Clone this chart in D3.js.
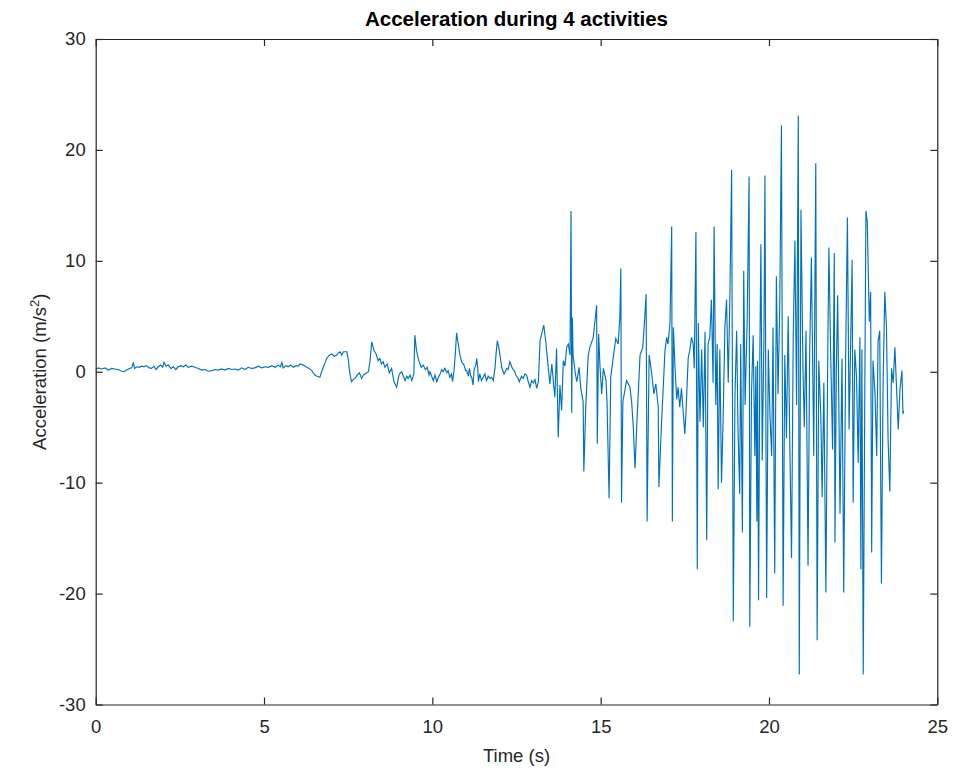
<!DOCTYPE html>
<html>
<head>
<meta charset="utf-8">
<script src="https://cdn.jsdelivr.net/npm/d3@7"></script>
<style>
  body { margin: 0; background: #fff; }
  text { font-family: "Liberation Sans", Arial, Helvetica, sans-serif; }
</style>
</head>
<body>
<div id="chart"></div>
<script>
// [time (s), acceleration (m/s^2)], one array per activity
const sitting = [[0,0.2],[0.08,0.35],[0.18,0.25],[0.28,0.35],[0.37,0.15],[0.48,0.3],[0.57,0.25],[0.67,0.2],
  [0.77,0.05],[0.84,0.0],[0.92,0.15],[1.0,0.3],[1.07,0.35],[1.12,0.85],[1.15,0.3],[1.22,0.45],[1.29,0.4],
  [1.37,0.5],[1.43,0.45],[1.51,0.55],[1.59,0.35],[1.66,0.3],[1.73,0.5],[1.79,0.2],[1.86,0.45],[1.93,0.6],
  [1.99,0.4],[2.03,0.85],[2.09,0.5],[2.16,0.6],[2.23,0.3],[2.31,0.45],[2.38,0.2],[2.45,0.45],[2.52,0.55],
  [2.6,0.45],[2.68,0.6],[2.75,0.4],[2.85,0.5],[2.95,0.4],[3.05,0.3],[3.15,0.15],[3.25,0.2],[3.34,0.05],
  [3.45,0.1],[3.54,0.2],[3.64,0.15],[3.74,0.25],[3.84,0.15],[3.94,0.3],[4.04,0.2],[4.14,0.25],[4.24,0.15],
  [4.34,0.35],[4.43,0.2],[4.53,0.4],[4.63,0.3],[4.73,0.35],[4.83,0.5],[4.93,0.35],[5.03,0.45],[5.13,0.4],
  [5.23,0.55],[5.33,0.4],[5.42,0.6],[5.49,0.45],[5.53,0.85],[5.57,0.35],[5.65,0.55],[5.72,0.45],[5.79,0.6],
  [5.87,0.4],[5.95,0.55],[6.02,0.5]]

const walking = [[6.07,0.7],[6.17,0.6],[6.27,0.4],[6.34,0.3],[6.42,0.1],[6.51,-0.3],[6.58,-0.4],[6.66,-0.5],
  [6.71,0],[6.76,0.4],[6.81,0.8],[6.86,1.2],[6.94,1.5],[7.01,1.6],[7.09,1.4],[7.16,1.5],[7.21,1.7],[7.26,1.8],
  [7.31,1.5],[7.36,1.8],[7.46,1.8],[7.51,1.0],[7.53,0.3],[7.57,-0.5],[7.6,-0.9],[7.65,-0.7],[7.7,-0.6],
  [7.77,-0.3],[7.83,-0.1],[7.9,-0.6],[7.95,-0.3],[8.0,-0.2],[8.1,0],[8.15,1.0],[8.2,2.7],[8.27,1.9],[8.33,1.6],
  [8.39,1.0],[8.44,1.2],[8.49,0.7],[8.54,0.9],[8.59,0.4],[8.66,0.7],[8.72,-0.1],[8.79,0.3],[8.86,-0.9],
  [8.94,-1.4],[8.99,-0.6],[9.02,-0.2],[9.09,0],[9.14,-0.4],[9.19,-0.8],[9.24,-0.4],[9.28,-0.6],[9.34,-0.3],
  [9.39,-0.8],[9.45,-0.2],[9.48,3.3],[9.53,1.9],[9.58,1.2],[9.61,0.9],[9.67,0.4],[9.73,0.6],[9.79,0.2],
  [9.85,0.4],[9.9,-0.3],[9.93,0],[9.98,-0.4],[10.03,-0.8],[10.08,-0.3],[10.13,-0.9],[10.18,-0.5],[10.23,-0.2],
  [10.28,0.2],[10.32,0],[10.37,0.3],[10.43,-0.1],[10.47,0.1],[10.52,-0.5],[10.57,-0.2],[10.6,-0.9],[10.64,0],
  [10.68,1.5],[10.72,3.5],[10.77,2.5],[10.82,1.5],[10.87,0.9],[10.94,0.6],[10.99,0.1],[11.02,0.1],[11.07,-0.4],
  [11.1,0.3],[11.14,-0.4],[11.17,-0.5],[11.21,-1.2],[11.24,0.2],[11.29,0.6],[11.32,1.2],[11.35,0.3],[11.37,-0.9],
  [11.41,-0.2],[11.46,-0.8],[11.51,-0.5],[11.56,-0.2],[11.61,-0.8],[11.66,-0.4],[11.71,-0.6],[11.76,-0.5],
  [11.81,-0.8],[11.86,0.3],[11.89,1.5],[11.93,2.8],[11.99,1.9],[12.06,0.4],[12.13,-0.2],[12.21,0.3],[12.25,0.2],
  [12.3,0.9],[12.38,0.3],[12.45,0],[12.48,-0.3],[12.55,-0.6],[12.58,-0.9],[12.65,-0.4],[12.7,-0.6],[12.75,-0.2],
  [12.8,-0.3],[12.85,-0.9],[12.9,-1.4],[12.95,-0.8],[13.0,-1.0],[13.05,-0.7],[13.1,-1.5],[13.15,-0.9]]

const running = [[13.2,2.8],[13.31,4.2],[13.37,2.7],[13.43,0.8],[13.49,-1.1],[13.55,0.7],[13.61,-1.4],
  [13.64,-2.3],[13.69,2.1],[13.74,-5.9],[13.79,-1.2],[13.84,-3.5],[13.89,1.0],[13.94,0.5],[13.99,2.2],
  [14.04,2.5],[14.09,1.5],[14.12,14.5],[14.14,-3.7],[14.16,4.9],[14.18,1.5],[14.24,0],[14.29,-0.9],[14.36,0.4],
  [14.41,-1.5],[14.48,-2.7],[14.5,-9.0],[14.56,-3.0],[14.63,1.5],[14.68,2.2],[14.78,3.1],[14.88,6.0],
  [14.9,-6.5],[14.94,3.4],[14.98,0.5],[15.03,-2.0],[15.08,0.3],[15.16,-0.8],[15.19,-2.8],[15.25,-11.4],
  [15.3,-0.5],[15.37,1.2],[15.45,3.0],[15.52,2.5],[15.57,4.9],[15.6,9.3],[15.62,-11.8],[15.66,-2.7],
  [15.77,-0.8],[15.87,-1.4],[15.92,-2.7],[15.97,-5.0],[16.02,-8.7],[16.07,-5.0],[16.17,1.5],[16.25,2.2],
  [16.31,4.9],[16.35,7.0],[16.38,-13.5],[16.44,1.5],[16.51,0],[16.58,-2.0],[16.64,-1.1],[16.71,-3.2],[16.73,-10.4]]

const jumping = [[16.81,-4.5],[16.85,-2.0],[16.91,1.9],[16.96,3.1],[17.0,2.5],[17.06,4.4],[17.11,13.1],
  [17.13,-13.5],[17.16,4.0],[17.21,0.3],[17.26,-2.5],[17.3,-1.4],[17.35,-3.2],[17.4,-1.5],[17.45,-3.5],
  [17.5,-5.6],[17.53,-4.0],[17.6,1.2],[17.65,2.0],[17.7,3.1],[17.75,2.5],[17.78,0.3],[17.83,12.6],[17.87,-17.8],
  [17.9,4.4],[17.95,-4.5],[18.0,2.0],[18.05,-5.0],[18.1,3.6],[18.15,-15.2],[18.19,2.5],[18.24,3.1],[18.29,6.5],
  [18.34,-1.0],[18.37,13.1],[18.42,-3.0],[18.46,2.5],[18.49,-10.6],[18.54,2.0],[18.59,-10.0],[18.64,-4.0],
  [18.69,4.0],[18.74,6.5],[18.79,-1.0],[18.84,7.0],[18.89,18.2],[18.94,-22.5],[18.99,-2.0],[19.04,3.7],
  [19.08,-5.2],[19.13,-11.0],[19.16,2.5],[19.21,-14.5],[19.25,9.1],[19.29,-3.0],[19.35,4.3],[19.41,17.6],
  [19.43,-23.0],[19.48,-2.0],[19.53,3.3],[19.58,-7.6],[19.61,0.5],[19.64,-13.5],[19.66,1.0],[19.69,-20.6],
  [19.73,2.0],[19.76,11.5],[19.8,-8.0],[19.85,3.0],[19.88,17.7],[19.93,-20.4],[19.98,2.0],[20.03,-4.0],
  [20.08,-7.6],[20.12,4.0],[20.17,-18.2],[20.22,8.6],[20.27,-2.0],[20.32,6.0],[20.37,22.2],[20.42,-21.1],
  [20.47,1.5],[20.52,-6.0],[20.57,5.0],[20.62,-6.8],[20.67,-16.8],[20.72,3.0],[20.77,11.8],[20.82,-3.0],
  [20.87,23.1],[20.9,-27.3],[20.95,14.6],[21.01,0.3],[21.05,-5.0],[21.1,3.7],[21.16,-17.5],[21.21,2.0],
  [21.26,10.3],[21.33,-7.6],[21.39,18.8],[21.43,-24.2],[21.48,1.0],[21.54,-4.0],[21.58,-11.3],[21.63,-1.0],
  [21.69,-19.9],[21.75,3.0],[21.78,11.2],[21.83,2.0],[21.89,-7.0],[21.94,10.7],[21.96,-15.4],[22.0,0.0],
  [22.04,6.9],[22.11,-12.8],[22.17,1.2],[22.22,-19.9],[22.28,2.0],[22.33,13.9],[22.38,-5.2],[22.47,10.1],
  [22.5,-11.8],[22.55,2.0],[22.6,-0.4],[22.65,-8.2],[22.7,3.1],[22.73,-17.8],[22.76,2.0],[22.8,-27.3],
  [22.85,0],[22.88,14.5],[22.92,13.5],[22.98,4.5],[23.02,7.2],[23.05,-16.3],[23.09,1.0],[23.15,-2.0],
  [23.2,-7.6],[23.24,2.7],[23.29,3.7],[23.34,-19.1],[23.39,-1.0],[23.44,7.2],[23.49,4.0],[23.54,-6.3],
  [23.59,-10.8],[23.64,0.3],[23.69,-1.0],[23.74,2.2],[23.79,-1.5],[23.84,-5.2],[23.89,-1.6],[23.95,0.1],
  [23.98,-3.8],[24.0,-3.5]]

const xTicks = [0, 5, 10, 15, 20, 25]
const yTicks = [-30, -20, -10, 0, 10, 20, 30]

const titleText = "Acceleration during 4 activities"
const xLabel = "Time (s)"

// set the dimensions and margins of the graph
const fullWidth = 961, fullHeight = 769
const margin = {top: 39, right: 23.7, bottom: 64.5, left: 95.7},
    width = fullWidth - margin.left - margin.right,
    height = fullHeight - margin.top - margin.bottom

const axisColor = "#262626"
const lineColor = "#0072BD"

// plain hyphen for negatives, like the original
const plainFormat = d => String(d)

const svg = d3.select("#chart")
    .append("svg")
    .attr("width", fullWidth)
    .attr("height", fullHeight)

const g = svg.append("g")
    .attr("transform", `translate(${margin.left}, ${margin.top})`)

const x = d3.scaleLinear().domain([0, 25]).range([0, width])
const y = d3.scaleLinear().domain([-30, 30]).range([height, 0])

// the signal, all four activities joined into one trace
const data = sitting.concat(walking, running, jumping)
const line = d3.line()
    .x(d => x(d[0]))
    .y(d => y(d[1]))

g.append("path")
    .datum(data)
    .attr("fill", "none")
    .attr("stroke", lineColor)
    .attr("stroke-width", 1.15)
    .attr("stroke-linejoin", "miter")
    .attr("d", line)

// box axes with inward ticks
function styleAxis(sel) {
    sel.select(".domain").attr("stroke", axisColor).attr("stroke-width", 1.2)
    sel.selectAll(".tick line").attr("stroke", axisColor).attr("stroke-width", 1.2)
    sel.selectAll(".tick text")
        .attr("fill", axisColor)
        .style("font-size", "18.5px")
}

g.append("g")
    .attr("transform", `translate(0, ${height})`)
    .call(d3.axisBottom(x).tickValues(xTicks).tickFormat(plainFormat)
        .tickSizeInner(-7).tickSizeOuter(0).tickPadding(15))
    .call(styleAxis)

g.append("g")
    .call(d3.axisLeft(y).tickValues(yTicks).tickFormat(plainFormat)
        .tickSizeInner(-7).tickSizeOuter(0).tickPadding(10))
    .call(styleAxis)

g.append("g")
    .call(d3.axisTop(x).tickValues(xTicks).tickSizeInner(-7).tickSizeOuter(0).tickFormat(""))
    .call(styleAxis)

g.append("g")
    .attr("transform", `translate(${width}, 0)`)
    .call(d3.axisRight(y).tickValues(yTicks).tickSizeInner(-7).tickSizeOuter(0).tickFormat(""))
    .call(styleAxis)

// title
svg.append("text")
    .attr("x", margin.left + width / 2)
    .attr("y", 26)
    .attr("text-anchor", "middle")
    .style("font-size", "20.5px")
    .style("font-weight", "bold")
    .attr("fill", "#000")
    .text(titleText)

// x label
svg.append("text")
    .attr("x", margin.left + width / 2)
    .attr("y", 762)
    .attr("text-anchor", "middle")
    .style("font-size", "18.5px")
    .attr("fill", axisColor)
    .text(xLabel)

// y label with superscript
const yLab = svg.append("text")
    .attr("transform", "rotate(-90)")
    .attr("x", -(margin.top + height / 2))
    .attr("y", 46)
    .attr("text-anchor", "middle")
    .style("font-size", "18.5px")
    .attr("fill", axisColor)
yLab.append("tspan").text("Acceleration (m/s")
yLab.append("tspan").attr("dy", -7).style("font-size", "13px").text("2")
yLab.append("tspan").attr("dy", 7).text(")")
</script>
</body>
</html>
